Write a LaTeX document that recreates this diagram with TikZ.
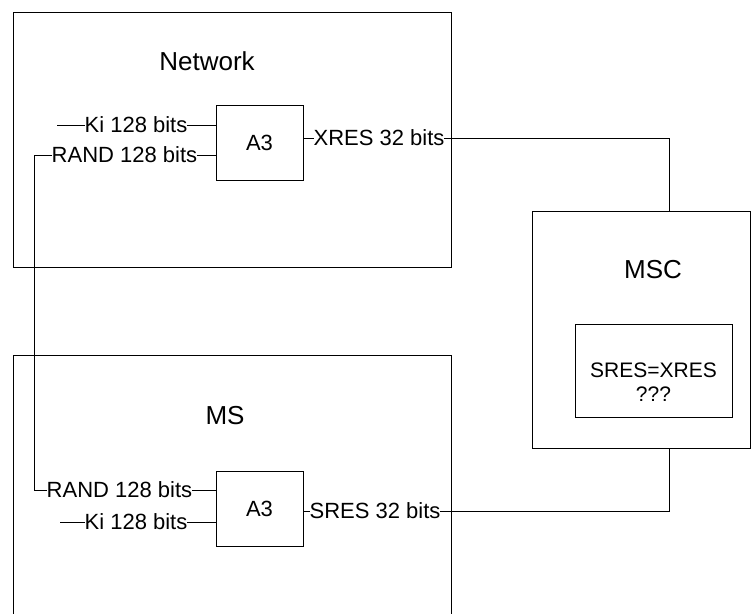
\documentclass[tikz,border=0pt]{standalone}
\usepackage{fontspec}
\setmainfont{Liberation Sans}
\begin{document}
\begin{tikzpicture}[x=1pt,y=-1pt,line width=0.9pt,
  frame/.style={draw,rectangle,inner sep=0pt,outer sep=0pt},
  title/.style={inner sep=0pt,anchor=base,font=\fontsize{26}{28}\selectfont},
  tag/.style={inner sep=0pt,outer sep=0pt,text height=15pt,text depth=0pt,
    font=\fontsize{22}{24}\selectfont},
  algo/.style={frame,minimum width=87pt,minimum height=75pt,
    font=\fontsize{22}{24}\selectfont}]
\useasboundingbox (0,0) rectangle (751,613);
\clip (0,0) rectangle (751,613);

% network side
\node[frame,minimum width=438pt,minimum height=255pt] (net) at (232,139.5) {};
\node[title] (netT) at (207,70) {Network};
\node[algo] (a3t) at (259.5,142.5) {A3};
\node[tag] (kiT) at (136,125) {Ki 128 bits};
\node[tag] (randT) at (124.5,155) {RAND 128 bits};
\node[tag] (xresT) at (379,138) {XRES 32 bits};

% mobile station side
\node[frame,minimum width=438pt,minimum height=400pt] (ms) at (232,555) {};
\node[title] (msT) at (225,424) {MS};
\node[algo] (a3b) at (259.5,508.5) {A3};
\node[tag] (randB) at (119.5,490) {RAND 128 bits};
\node[tag] (kiB) at (136,522) {Ki 128 bits};
\node[tag] (sresB) at (375,511) {SRES 32 bits};

% switching centre
\node[frame,minimum width=218pt,minimum height=237pt] (msc) at (641,329.5) {};
\node[title] (mscT) at (653,278) {MSC};
\node[frame,minimum width=157pt,minimum height=93pt] (cmp) at (653.5,370.5) {};
\node[align=center,inner sep=0pt,font=\fontsize{21}{24}\selectfont]
  (cmpT) at (653.5,382) {SRES=XRES\\???};

% free ends and bends
\coordinate (kiTin) at (57,125);
\coordinate (kiBin) at (60,522);
\coordinate (rv) at (34,0);
\coordinate (mv) at (669,0);

% wiring
\draw (kiTin) -- (kiT.west);
\draw (kiT.east) -- (kiT.east -| a3t.west);
\draw (randT.east) -- (randT.east -| a3t.west);
\draw (xresT.west -| a3t.east) -- (xresT.west);
\draw (randT.west) -- (randT.west -| rv) -- (randB.west -| rv) -- (randB.west);
\draw (randB.east) -- (randB.east -| a3b.west);
\draw (kiBin) -- (kiB.west);
\draw (kiB.east) -- (kiB.east -| a3b.west);
\draw (sresB.west -| a3b.east) -- (sresB.west);
\draw (xresT.east) -| (mv |- msc.north);
\draw (sresB.east) -| (mv |- msc.south);
\end{tikzpicture}
\end{document}
